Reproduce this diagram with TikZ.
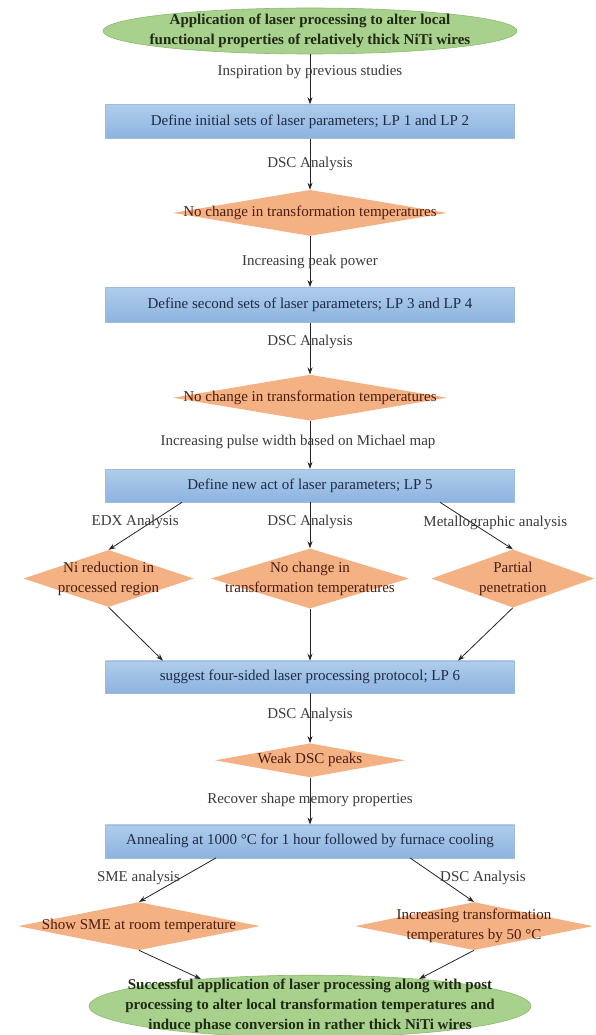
\documentclass[tikz,border=0pt]{standalone}
\usepackage{fontspec}
\setmainfont{Liberation Serif}
\usepackage{xcolor}
\usepackage{tikz}
\usetikzlibrary{shapes.geometric, arrows.meta, positioning}
\definecolor{termfill}{HTML}{A9D18E}
\definecolor{termdraw}{HTML}{8CB96E}
\definecolor{termtext}{HTML}{1E2A12}
\definecolor{boxtop}{HTML}{AFCDEC}
\definecolor{boxbot}{HTML}{8DB3DF}
\definecolor{boxdraw}{HTML}{9BBBE0}
\definecolor{boxtext}{HTML}{1F2A44}
\definecolor{decfill}{HTML}{F4B183}
\definecolor{dectext}{HTML}{4A1C0C}
\definecolor{labtext}{HTML}{3A3A3A}
\tikzset{
  term/.style={ellipse, draw=termdraw, fill=termfill, line width=0.6pt,
               inner sep=0pt},
  termtxt/.style={font=\fontsize{15}{20}\selectfont\bfseries, text=termtext,
                  align=center},
  block/.style={rectangle, draw=boxdraw, top color=boxtop, bottom color=boxbot,
                minimum width=409pt, inner sep=0pt, text=boxtext},
  dec/.style={diamond, fill=decfill, inner sep=0pt},
  dectxt/.style={text=dectext, align=center},
  arrow/.style={-{Stealth[length=7pt,width=5pt]}, draw=black!85,
                line width=0.8pt},
  lab/.style={text=labtext, inner sep=1pt},
}
\begin{document}
\begin{tikzpicture}[
  x=1pt, y=1pt,
  every node/.style={font=\fontsize{15}{20}\selectfont},
]
  \useasboundingbox (0,0) rectangle (595,-1035);

  \node[term, minimum width=414pt, minimum height=46pt,
        label={[termtxt]center:{Application of laser processing to alter local\\
                functional properties of relatively thick NiTi wires}}]
        (start) at (310,-31) {};
  \node[block, minimum height=34pt, below=50pt of start] (lp12)
    {Define initial sets of laser parameters; LP 1 and LP 2};
  \node[dec, minimum width=274pt, minimum height=46pt, below=51pt of lp12,
        label={[dectxt]center:{No change in transformation temperatures}}]
        (nochg1) {};
  \node[block, minimum height=35pt, below=51pt of nochg1] (lp34)
    {Define second sets of laser parameters; LP 3 and LP 4};
  \node[dec, minimum width=274pt, minimum height=46pt, below=52pt of lp34,
        label={[dectxt]center:{No change in transformation temperatures}}]
        (nochg2) {};
  \node[block, minimum height=33pt, below=48pt of nochg2] (lp5)
    {Define new act of laser parameters; LP 5};

  \node[dec, minimum width=198pt, minimum height=60pt, below=46pt of lp5,
        label={[dectxt]center:{No change in\\transformation temperatures}}]
        (nochg3) {};
  \node[dec, minimum width=170pt, minimum height=57pt, left=17pt of nochg3,
        label={[dectxt]center:{Ni reduction in\\processed region}}]
        (nired) {};
  \node[dec, minimum width=163pt, minimum height=58pt, right=22pt of nochg3,
        label={[dectxt]center:{Partial\\penetration}}]
        (partial) {};

  \node[block, minimum height=32pt, below=52pt of nochg3] (lp6)
    {suggest four-sided laser processing protocol; LP 6};
  \node[dec, minimum width=190pt, minimum height=34pt, below=50pt of lp6,
        label={[dectxt]center:{Weak DSC peaks}}] (weak) {};
  \node[block, minimum height=33pt, below=47pt of weak] (anneal)
    {Annealing at 1000 °C for 1 hour followed by furnace cooling};

  \node[dec, minimum width=242pt, minimum height=48pt, below=44pt of anneal,
        xshift=-171pt,
        label={[dectxt]center:{Show SME at room temperature}}] (sme) {};
  \node[dec, minimum width=238pt, minimum height=48pt, below=44pt of anneal,
        xshift=164pt,
        label={[dectxt]center:{Increasing transformation\\temperatures by 50 °C}}]
        (incr) {};

  \node[term, minimum width=442pt, minimum height=62pt, below=117pt of anneal,
        label={[termtxt]center:{Successful application of laser processing along with post\\
                processing to alter local transformation temperatures and\\
                induce phase conversion in rather thick NiTi wires}}]
        (final) {};

  \draw[arrow] (start) -- node[lab, pos=0.36]{Inspiration by previous studies} (lp12);
  \draw[arrow] (lp12) -- node[lab]{DSC Analysis} (nochg1);
  \draw[arrow] (nochg1) -- node[lab]{Increasing peak power} (lp34);
  \draw[arrow] (lp34) -- node[lab, pos=0.38]{DSC Analysis} (nochg2);
  \draw[arrow] (nochg2) -- node[lab, pos=0.44, xshift=-12pt]
    {Increasing pulse width based on Michael map} (lp5);
  \draw[arrow] ([xshift=-128pt]lp5.south) -- node[lab, pos=0.42, xshift=-16pt]
    {EDX Analysis} (nired.north);
  \draw[arrow] (lp5) -- node[lab, pos=0.43]{DSC Analysis} (nochg3);
  \draw[arrow] ([xshift=130pt]lp5.south) -- node[lab, pos=0.43, xshift=24pt]
    {Metallographic analysis} (partial.north);
  \draw[arrow] (nired.south) -- ([xshift=-147pt]lp6.north);
  \draw[arrow] (nochg3) -- (lp6);
  \draw[arrow] (partial.south) -- ([xshift=148pt]lp6.north);
  \draw[arrow] (lp6) -- node[lab, pos=0.43]{DSC Analysis} (weak);
  \draw[arrow] (weak) -- node[lab, pos=0.47]{Recover shape memory properties} (anneal);
  \draw[arrow] ([xshift=-94pt]anneal.south) -- node[lab, pos=0.45, anchor=east]
    {SME analysis} (sme.north);
  \draw[arrow] ([xshift=100pt]anneal.south) -- node[lab, pos=0.45, anchor=west]
    {DSC Analysis} (incr.north);
  \draw[arrow] (sme.south) -- (final.166);
  \draw[arrow] (incr.south) -- (final.14);
\end{tikzpicture}
\end{document}
